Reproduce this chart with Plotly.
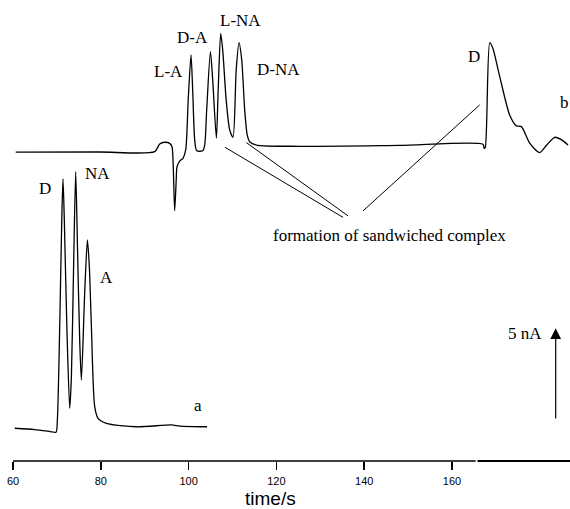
import plotly.graph_objects as go

# ---- data: trace a ----
time_a = [60.4, 64.9, 68.5, 69.8, 70.1, 70.64, 71.1, 71.39, 71.7, 72.3, 72.92,
          73.3, 73.8, 74.28, 74.7, 75.2, 75.58, 76.33, 76.95, 77.4, 77.86, 78.61,
          79.36, 81.28, 88.1, 96.1, 98.0, 104.2]
current_a = [1.78, 1.71, 1.60, 1.56, 2.2, 7.3, 13.0, 15.33, 13.0, 7.0, 2.86,
             4.58, 10.5, 15.72, 11.5, 6.5, 4.40, 9.13, 12.01, 10.5, 7.30, 2.95,
             2.32, 2.05, 1.86, 1.96, 1.90, 1.86]

# ---- data: trace b (with sandwiched complex) ----
time_b = [60.62, 79.75, 92.28, 93.42, 94.56, 95.69, 96.22, 96.49, 96.83, 97.18,
          97.36, 97.97, 98.72, 99.34, 99.91, 100.55, 100.93, 101.39, 101.84, 103.21,
          103.67, 104.12, 104.97, 105.49, 106.33, 106.74, 107.31, 107.77, 108.56, 109.36,
          110.11, 110.84, 111.48, 112.10, 112.78, 113.35, 113.92, 115.44, 125.31, 148.09,
          167.06, 167.33, 167.56, 168.59, 169.27, 170.87, 173.14, 174.67, 175.81, 177.70,
          179.98, 181.57, 183.40, 184.99, 186.43]
current_b = [16.78, 16.79, 16.81, 17.23, 17.32, 17.26, 17.08, 16.09, 13.6, 15.27,
             15.99, 16.30, 16.45, 16.90, 19.62, 22.07, 20.16, 17.45, 16.86, 16.86,
             17.17, 19.08, 22.24, 20.71, 17.54, 20.16, 23.24, 22.34, 19.62, 17.99,
             17.59, 21.25, 22.73, 21.79, 19.08, 17.72, 17.35, 17.17, 17.10, 17.15,
             17.21, 16.99, 17.01, 22.73, 22.45, 20.89, 18.80, 18.21, 18.17, 17.27,
             16.76, 17.17, 17.59, 17.45, 17.17]

tick_vals = [60, 80, 100, 120, 140, 160]
tick_text = ["60", "80", "100", "120", "140", "160"]

# peak labels: (text, time, current)
peak_labels = [
    ("D", 67.22, 14.82), ("NA", 79.36, 15.64), ("A", 81.28, 9.97), ("a", 102.14, 3.04),
    ("L-A", 95.47, 21.14), ("D-A", 100.82, 23.02), ("L-NA", 111.82, 23.92),
    ("D-NA", 120.52, 21.30), ("D", 165.06, 21.97), ("b", 185.67, 19.48),
]
# leader lines to "formation of sandwiched complex": (t0, y0, t1, y1)
leaders = [
    (108.27, 17.05, 135.17, 13.24),
    (113.17, 17.30, 136.31, 13.32),
    (139.73, 13.59, 166.31, 19.35),
]
complex_label = ("formation of sandwiched complex", 118.7, 12.28)
scale_bar = (183.62, 2.23, 7.21)  # time, from, to (5 nA)
scale_label = ("5 nA", 176.74, 6.94)

X_MAX = 186.88
Y_MAX = 25.05
SERIF = "Liberation Serif, Times New Roman, serif"
SANS = "Liberation Sans, Arial, sans-serif"

fig = go.Figure()
for t, c in ((time_a, current_a), (time_b, current_b)):
    fig.add_trace(go.Scatter(x=t, y=c, mode="lines",
                             line=dict(color="black", width=1.3, shape="spline", smoothing=0.7),
                             hoverinfo="skip", showlegend=False))

ann = []
for txt, t, c in peak_labels:
    ann.append(dict(x=t, y=c, xref="x", yref="y", text=txt, showarrow=False,
                    font=dict(family=SERIF, size=17, color="black")))
ann.append(dict(x=complex_label[1], y=complex_label[2], xref="x", yref="y",
                text=complex_label[0], showarrow=False, xanchor="left",
                font=dict(family=SERIF, size=17, color="black")))
ann.append(dict(x=scale_label[1], y=scale_label[2], xref="x", yref="y",
                text=scale_label[0], showarrow=False,
                font=dict(family=SERIF, size=17, color="black")))
ann.append(dict(x=scale_bar[0], y=scale_bar[2], ax=scale_bar[0], ay=scale_bar[1],
                xref="x", yref="y", axref="x", ayref="y", text="", showarrow=True,
                arrowhead=2, arrowsize=1.8, arrowwidth=1.2, arrowcolor="black",
                standoff=0, startstandoff=0))
ann.append(dict(x=118.7, y=-0.0824, xref="x", yref="paper", text="time/s",
                yanchor="middle", showarrow=False,
                font=dict(family=SANS, size=19, color="black")))

shapes = []
for t0, y0, t1, y1 in leaders:
    shapes.append(dict(type="line", x0=t0, y0=y0, x1=t1, y1=y1, xref="x", yref="y",
                       line=dict(color="black", width=1)))
# axis line with small break
shapes.append(dict(type="line", x0=60, x1=165.4, y0=0, y1=0, xref="x", yref="paper",
                   line=dict(color="black", width=1.6)))
shapes.append(dict(type="line", x0=165.8, x1=X_MAX, y0=0, y1=0, xref="x", yref="paper",
                   line=dict(color="black", width=1.8)))

fig.update_layout(
    width=570, height=509,
    margin=dict(l=13, r=0, t=0, b=48),
    paper_bgcolor="white", plot_bgcolor="white",
    annotations=ann, shapes=shapes,
    xaxis=dict(range=[60, X_MAX], tickvals=tick_vals, ticktext=tick_text,
               ticks="outside", ticklen=8, tickwidth=1.5, tickcolor="black",
               ticklabelstandoff=2,
               showline=False, showgrid=False, zeroline=False,
               tickfont=dict(family=SANS, size=11, color="black")),
    yaxis=dict(range=[0, Y_MAX], visible=False, showgrid=False, zeroline=False),
)

fig.write_html("out.html",
               config={"displayModeBar": False, "staticPlot": True},
               post_script="document.body.style.margin='0';document.body.style.overflow='hidden';")
